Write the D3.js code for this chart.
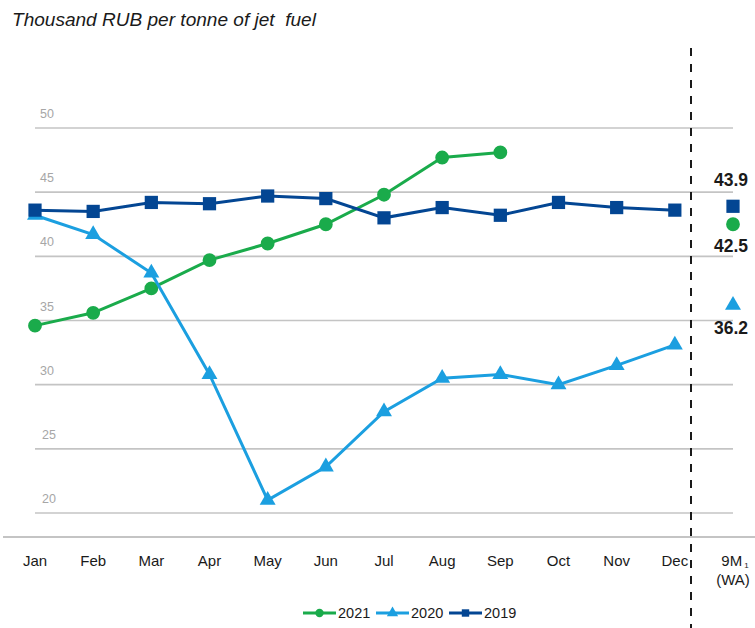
<!DOCTYPE html>
<html><head><meta charset="utf-8">
<script src="https://cdn.jsdelivr.net/npm/d3@7"></script>
<style>body{margin:0;background:#fff}svg{display:block;font-family:"Liberation Sans",Arial,sans-serif}</style>
</head><body><svg id="c" width="755" height="628"></svg>
<script>
const months = ["Jan","Feb","Mar","Apr","May","Jun","Jul","Aug","Sep","Oct","Nov","Dec"];
const extraCat = "9M";
const yTicks = [20,25,30,35,40,45,50];
const s2021 = [34.6,35.6,37.5,39.7,41.0,42.5,44.8,47.7,48.1];
const s2020 = [43.2,41.7,38.7,30.8,21.0,23.6,27.9,30.5,30.8,30.0,31.5,33.1];
const s2019 = [43.6,43.5,44.2,44.1,44.7,44.5,43.0,43.8,43.2,44.2,43.8,43.6];
const wa = {"2021":42.5,"2020":36.2,"2019":43.9};
const names = ["2021","2020","2019"];
const colors = {"2021":"#1aab4b","2020":"#1b9fe0","2019":"#034693"};

const svg = d3.select("#c");
const cats = months.concat([extraCat]);
const x = d3.scalePoint().domain(cats).range([35,733]);
const y = d3.scaleLinear().domain([20,50]).range([513,128]);

const title = svg.append("text").attr("x",12).attr("y",26).attr("font-size",16).attr("font-style","italic")
 .attr("fill","#1a1a1a").style("white-space","pre").text("Thousand RUB per tonne of jet  fuel");
const tw = title.node().getComputedTextLength();
title.attr("font-size", 16*304/tw);

// gridlines
const g = svg.append("g");
g.selectAll("line.grid").data(yTicks).join("line")
 .attr("x1",35).attr("x2",733).attr("y1",d=>y(d)).attr("y2",d=>y(d))
 .attr("stroke","#c4c4c4").attr("stroke-width",1.6);
g.selectAll("text.tick").data(yTicks).join("text")
 .attr("x",d=> d>=30 ? 40 : 42).attr("y",d=>y(d)-10).attr("font-size",12.5).attr("fill","#a6a6a6").text(d=>d);

// baseline axis
svg.append("line").attr("x1",3).attr("x2",755).attr("y1",537).attr("y2",537).attr("stroke","#c4c4c4").attr("stroke-width",2);

// x labels
const xl = svg.append("g").attr("font-size",15).attr("fill","#1a1a1a").attr("text-anchor","middle");
months.forEach(m=>xl.append("text").attr("x",x(m)).attr("y",566).text(m));
const t9 = xl.append("text").attr("x",x(extraCat)+2).attr("y",566);
t9.append("tspan").text("9M");
t9.append("tspan").attr("font-size",8).attr("dx",2).attr("dy",2).text("1");
xl.append("text").attr("x",x(extraCat)).attr("y",585).text("(WA)");

// dashed divider
svg.append("line").attr("x1",691).attr("x2",691).attr("y1",48).attr("y2",628)
 .attr("stroke","#1a1a1a").attr("stroke-width",2).attr("stroke-dasharray","8,8");

const line = d3.line().x(d=>x(d.m)).y(d=>y(d.v));
const series = {"2021":s2021,"2020":s2020,"2019":s2019};
const sym = {"2021":d3.symbolCircle,"2020":d3.symbolTriangle,"2019":d3.symbolSquare};
const symSize = {"2021":150,"2020":110,"2019":175};

names.forEach(n=>{
  const data = series[n].map((v,i)=>({m:months[i],v}));
  svg.append("path").datum(data).attr("d",line).attr("fill","none").attr("stroke",colors[n]).attr("stroke-width",3);
  svg.selectAll(null).data(data).join("path")
   .attr("transform",d=>`translate(${x(d.m)},${y(d.v)})`)
   .attr("d",d3.symbol().type(sym[n]).size(symSize[n])).attr("fill",colors[n]);
});
// 9M markers
names.forEach(n=>{
  svg.append("path").attr("transform",`translate(${x(extraCat)},${y(wa[n])})`)
   .attr("d",d3.symbol().type(sym[n]).size(symSize[n])).attr("fill",colors[n]);
});
const lab = svg.append("g").attr("font-size",17.5).attr("font-weight","bold").attr("fill","#1a1a1a").attr("text-anchor","middle");
lab.append("text").attr("x",x(extraCat)-2).attr("y",y(wa["2019"])-20).text(wa["2019"].toFixed(1));
lab.append("text").attr("x",x(extraCat)-2).attr("y",y(wa["2021"])+28).text(wa["2021"].toFixed(1));
lab.append("text").attr("x",x(extraCat)-2).attr("y",y(wa["2020"])+29).text(wa["2020"].toFixed(1));

// legend
const lg = svg.append("g");
let lx = 303;
names.forEach(n=>{
  lg.append("line").attr("x1",lx).attr("x2",lx+33).attr("y1",613).attr("y2",613).attr("stroke",colors[n]).attr("stroke-width",3);
  lg.append("path").attr("transform",`translate(${lx+16.5},613)`).attr("d",d3.symbol().type(sym[n]).size(55)).attr("fill",colors[n]);
  lg.append("text").attr("x",lx+35).attr("y",618).attr("font-size",14.5).attr("fill","#1a1a1a").text(n);
  lx += 73;
});
</script></body></html>
